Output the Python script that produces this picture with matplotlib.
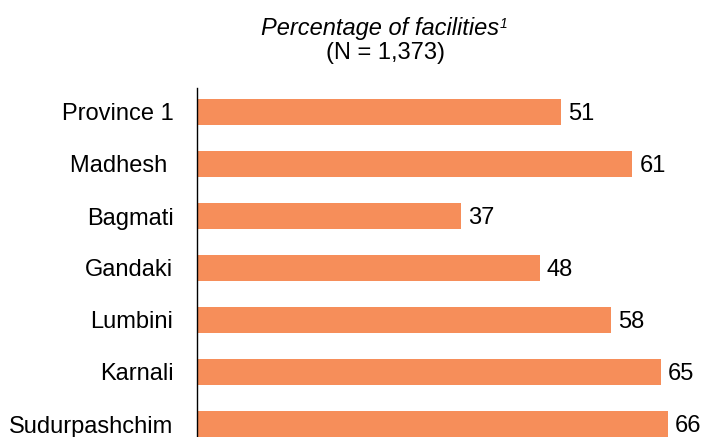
import matplotlib
matplotlib.use("Agg")
import matplotlib.pyplot as plt

categories = ["Province 1", "Madhesh ", "Bagmati", "Gandaki", "Lumbini", "Karnali", "Sudurpashchim"]
values = [51, 61, 37, 48, 58, 65, 66]
title_line1 = "Percentage of facilities"
title_sup = "1"
title_line2 = "(N = 1,373)"

plt.rcParams['font.family'] = ['Liberation Sans', 'DejaVu Sans']

W, H = 703, 437
fig = plt.figure(figsize=(W / 100, H / 100), dpi=100)
ax = fig.add_axes([197 / W, 0, 1 - 197 / W, (437 - 88) / H])

color = "#F68E5A"
ypos = list(range(len(categories)))
ax.barh(ypos, values, height=0.5, color=color, edgecolor="none")
ax.set_xlim(0, (703 - 197) / ((668 - 197) / 66))
ax.set_ylim(6.25, -24 / 52)
ax.set_yticks(ypos)
ax.set_yticklabels(categories, fontsize=17)
ax.tick_params(axis='y', length=0, pad=17)
ax.set_xticks([])
for s in ["top", "right", "bottom"]:
    ax.spines[s].set_visible(False)
ax.spines["left"].set_linewidth(1.0)
ax.spines["left"].set_color("black")

for y, v in zip(ypos, values):
    ax.annotate(str(v), (v, y), xytext=(5.0, -1.5), textcoords="offset points",
                ha="left", va="center", fontsize=17)

t1 = fig.text(380 / W, 1 - 28 / H, title_line1, ha="center", va="center",
              fontsize=17, style="italic")
fig.text(385 / W, 1 - 53 / H, title_line2, ha="center", va="center", fontsize=17)

fig.canvas.draw()
bb = t1.get_window_extent(renderer=fig.canvas.get_renderer())
fig.text((bb.x1 + 1) / W, (bb.y1 - 1) / H, title_sup, ha="left", va="top",
         fontsize=10, style="italic")

fig.savefig("out.png", dpi=100)
